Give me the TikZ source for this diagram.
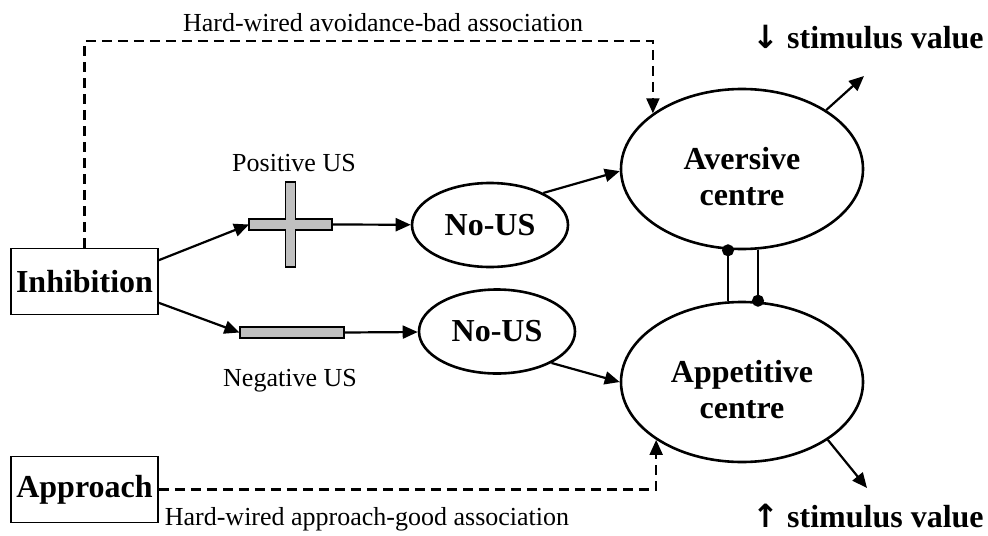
\documentclass[tikz,border=0pt]{standalone}
\usepackage{fontspec}
\setmainfont{Liberation Serif}
\newfontfamily\arrowfont{DejaVu Sans}
\usetikzlibrary{arrows.meta,shapes.geometric}
\definecolor{bargrey}{RGB}{192, 192, 192}

\begin{document}
\begin{tikzpicture}[x=0.5pt, y=-0.5pt,
  every node/.style={inner sep=0pt},
  centre/.style={draw, ellipse, line width=1.3pt, minimum width=121pt,
    minimum height=80pt, align=center, text height=37pt,
    font=\fontsize{16}{18}\selectfont\bfseries},
  nous/.style={draw, ellipse, line width=1.3pt, minimum width=78pt,
    minimum height=42pt, font=\fontsize{16}{18}\selectfont\bfseries},
  inbox/.style={draw, rectangle, line width=0.8pt, minimum width=73.5pt,
    minimum height=33pt, font=\fontsize{16}{18}\selectfont\bfseries},
  tag/.style={font=\fontsize{13}{15}\selectfont},
  valuetag/.style={font=\fontsize{16}{18}\selectfont\bfseries},
  bar/.style={draw, fill=bargrey, line width=0.6pt},
  link/.style={line width=1.1pt, -{Triangle[length=7.5pt, width=6.5pt]}},
  wired/.style={link, dash pattern=on 5pt off 3pt},
  mutual/.style={line width=0.9pt}]

  \useasboundingbox (0, 0) rectangle (988, 535);

  % boxes and centres
  \node[inbox] (inhib) at (84.5, 281.5) {Inhibition};
  \node[inbox] (approach) at (84.5, 489.5) {Approach};

  \node[centre] (aversive) at (742, 169) {Aversive\\centre};
  \node[centre] (appetitive) at (742, 382) {Appetitive\\centre};

  \node[nous] (nous1) at (490, 225) {No-US};
  \node[nous] (nous2) at (497, 331.5) {No-US};

  % positive US cross
  \begin{scope}[shift={(290.5, 224.5)}]
    \filldraw[bar] (-41.5, -5.5) -- (-5.2, -5.5) -- (-5.2, -42.5) -- (5.2, -42.5)
      -- (5.2, -5.5) -- (41.5, -5.5) -- (41.5, 5.5) -- (5.2, 5.5) -- (5.2, 42.5)
      -- (-5.2, 42.5) -- (-5.2, 5.5) -- (-41.5, 5.5) -- cycle;
    \coordinate (plusleft) at (-41.5, 0);
    \coordinate (plusright) at (41.5, 0);
  \end{scope}

  % negative US bar
  \node[bar, minimum width=52pt, minimum height=5.5pt] (negbar) at (292, 332.5) {};

  % labels
  \node[tag] (badtag) at (383, 23) {Hard-wired avoidance-bad association};
  \node[tag] (goodtag) at (367, 519) {Hard-wired approach-good association};
  \node[tag] (postag) at (294, 163) {Positive US};
  \node[tag] (negtag) at (290, 381) {Negative US};
  \node[valuetag] (downtag) at (868, 37) {{\arrowfont ↓} stimulus value};
  \node[valuetag] (uptag) at (868, 516) {{\arrowfont ↑} stimulus value};

  \coordinate (avout) at (864, 76);
  \coordinate (apout) at (867, 488);
  \coordinate (topcorner) at (aversive.148 |- 0, 41);

  % connectors
  \draw[link] (inhib.16) -- (plusleft);
  \draw[link] (plusright) -- (nous1);
  \draw[link] (inhib.-16) -- (negbar.west);
  \draw[link] (negbar.east) -- (nous2);
  \draw[link] (nous1.31) -- (aversive.181);
  \draw[link] (nous2.-30) -- (appetitive.180);
  \draw[link] (aversive.35) -- (avout);
  \draw[link] (appetitive.-34) -- (apout);

  \draw[wired] (inhib.north) |- (topcorner) -- (aversive.148);
  \draw[wired] (approach.east) -| (appetitive.214);

  \draw[mutual, {Circle[length=6pt]}-, shorten <=-3pt]
    ([xshift=-7pt]aversive.south) -- ([xshift=-7pt]appetitive.north);
  \draw[mutual, -{Circle[length=6pt]}, shorten >=-3pt]
    ([xshift=8pt]aversive.south) -- ([xshift=8pt]appetitive.north);

\end{tikzpicture}
\end{document}
